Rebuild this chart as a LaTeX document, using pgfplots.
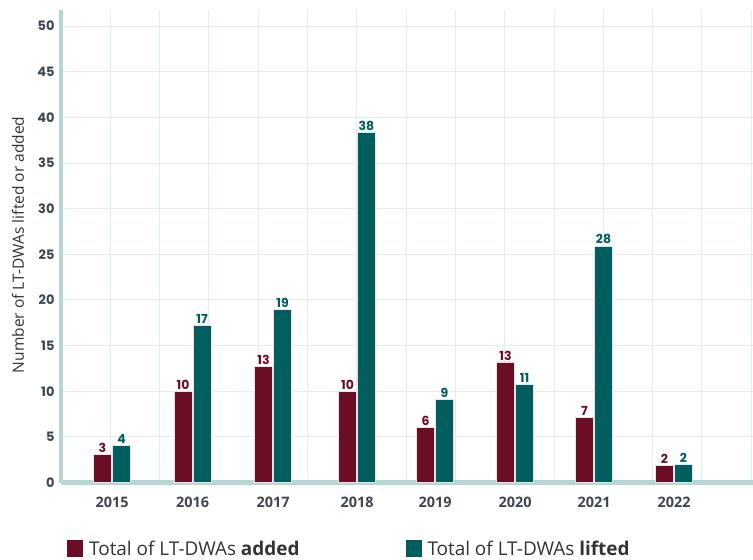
\documentclass[border=0pt]{standalone}
\usepackage{fontspec}
\setmainfont{Open Sans}
\newfontfamily\numfont{Poppins}
\usepackage{pgfplots}
\pgfplotsset{compat=1.18}

\definecolor{added}{HTML}{6B0D24}
\definecolor{lifted}{HTML}{005F5E}
\definecolor{axisln}{HTML}{B4D7D4}
\definecolor{gridln}{HTML}{E2EDED}
\definecolor{ticktx}{HTML}{3C4550}

% x in pixels from the y axis; h = drawn height, lab = printed value
\pgfplotstableread{
x     h     lab
51    3.1   3
131.5 10    10
212   12.7  13
296   10    10
374   6     6
454   13.2  13
533   7.1   7
613   1.9   2
}\addedtab
\pgfplotstableread{
x     h     lab
51    4.1   4
131.5 17.2  17
212   19.0  19
296   38.3  38
374   9.1   9
454   10.7  11
533   25.9  28
613   2     2
}\liftedtab

\begin{document}
\begin{tikzpicture}
\useasboundingbox (0,0) rectangle (753bp,560bp);
\begin{axis}[
    at={(61bp,77.5bp)}, anchor=south west,
    scale only axis,
    width=692bp, height=472.5bp,
    xmin=0, xmax=692, ymin=0, ymax=51.75,
    axis lines=left,
    axis line style={draw=axisln, line width=4.5bp, -},
    xtick={0,49.29,...,692},
    xticklabels={},
    ytick={0,5,...,50},
    /pgf/number format/assume math mode=true,
    major tick length=0pt,
    grid=major,
    major grid style={draw=gridln, line width=0.8bp},
    extra x ticks={51,131.5,212,296,374,454,533,613},
    extra x tick labels={2015,2016,2017,2018,2019,2020,2021,2022},
    extra x tick style={grid=none, major tick length=0pt,
        tick label style={font=\bfseries\fontsize{14.5}{15}\selectfont, text=ticktx, yshift=-11bp}},
    yticklabel style={font=\numfont\bfseries\fontsize{13}{14}\selectfont, text=ticktx, xshift=-3bp},
    ylabel={Number of LT-DWAs lifted or added},
    ylabel style={at={(axis description cs:-0.062,0.503)}, anchor=center,
        font=\fontsize{15.6}{16}\selectfont, text=black!80},
    ybar, bar width=18bp,
    point meta=explicit symbolic,
    nodes near coords,
    nodes near coords style={font=\numfont\bfseries\fontsize{12.5}{13}\selectfont, anchor=south, inner sep=1.5bp},
    legend columns=2,
    legend style={at={(0.0043,-0.116)}, anchor=north west, draw=none, fill=none,
        font=\fontsize{19}{20}\selectfont, text=black!80,
        /tikz/every even column/.append style={column sep=104bp}},
    legend image code/.code={\fill[#1, draw=none] (0bp,-8bp) rectangle (16bp,9bp);},
    legend cell align=left,
]
\addplot[fill=added, draw=white!80!gray, line width=0.7bp, bar shift=-9.5bp,
    nodes near coords style={text=added}]
    table[x=x, y=h, meta=lab] {\addedtab};
\addlegendentry{\hspace{4bp}Total of LT-DWAs \textbf{added}}
\addplot[fill=lifted, draw=white!80!gray, line width=0.7bp, bar shift=9.5bp,
    nodes near coords style={text=lifted}]
    table[x=x, y=h, meta=lab] {\liftedtab};
\addlegendentry{\hspace{4bp}Total of LT-DWAs \textbf{lifted}}
\end{axis}
\end{tikzpicture}
\end{document}
